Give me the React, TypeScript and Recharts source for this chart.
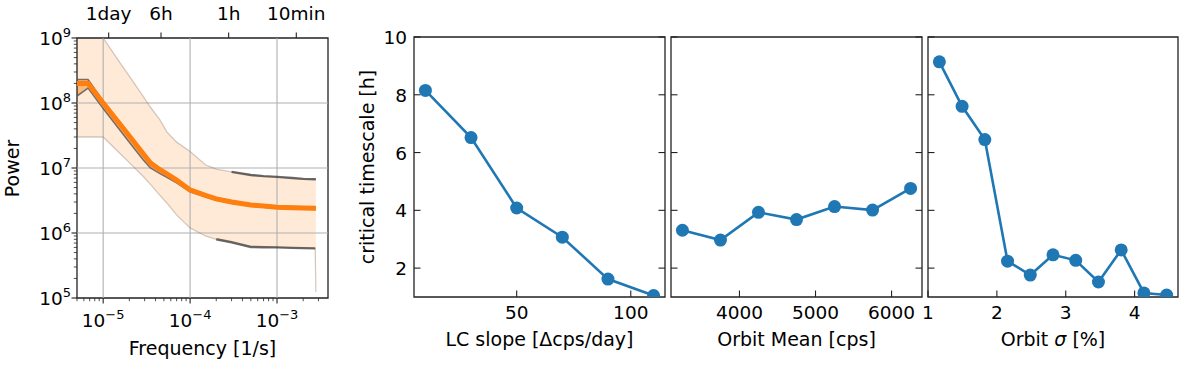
import React from 'react';
import {
  ComposedChart,
  LineChart,
  Line,
  Area,
  XAxis,
  YAxis,
  ReferenceLine,
  ReferenceArea,
} from 'recharts';

const FONT = '"DejaVu Sans", "Liberation Sans", sans-serif';
const BLUE = '#1f77b4';
const ORANGE = '#ff7f0e';
const INK = '#222222';
const GRID = '#b0b0b0';
const TICK_FS = 18.5;
const LABEL_FS = 19;

// ---------- Panel 1: power spectrum ----------
const psdFreq = [5e-6, 6.7e-6, 1e-5, 1.5e-5, 2e-5, 2.9e-5, 3.5e-5, 4.5e-5, 5.4e-5, 7e-5, 1e-4, 1.5e-4, 2e-4, 3e-4, 5e-4, 7e-4, 1e-3, 1.5e-3, 2e-3, 2.75e-3, 2.8e-3];
const psdMean = [2.0e8, 2.0e8, 1.0e8, 5.06e7, 3.1e7, 1.64e7, 1.19e7, 9.4e6, 8.1e6, 6.5e6, 4.6e6, 3.8e6, 3.35e6, 3.0e6, 2.7e6, 2.6e6, 2.5e6, 2.45e6, 2.42e6, 2.4e6, 2.4e6];
const psdInnerLo = [1.28e8, 1.7e8, 8.2e7, 4.1e7, 2.5e7, 1.33e7, 1.0e7, 8.2e6, 7.2e6, 5.9e6, 4.3e6, 3.6e6, 3.2e6, 2.88e6, 2.6e6, 2.5e6, 2.4e6, 2.36e6, 2.33e6, 2.3e6, 2.3e6];
const psdInnerHi = [2.3e8, 2.3e8, 1.07e8, 5.4e7, 3.3e7, 1.75e7, 1.27e7, 9.9e6, 8.5e6, 6.8e6, 4.8e6, 3.95e6, 3.48e6, 3.12e6, 2.8e6, 2.7e6, 2.6e6, 2.55e6, 2.52e6, 2.5e6, 2.5e6];
const psdLo = [3.0e7, 3.0e7, 3.0e7, 1.76e7, 1.21e7, 7.4e6, 5.6e6, 3.8e6, 2.9e6, 1.9e6, 1.2e6, 9.0e5, 8.0e5, 7.2e5, 6.1e5, 6.05e5, 6.0e5, 5.9e5, 5.85e5, 5.8e5, 1.24e5];
const psdHi = [3.0e9, 2.0e9, 1.0e9, 4.5e8, 2.6e8, 1.25e8, 8.6e7, 5.5e7, 3.6e7, 2.5e7, 1.8e7, 1.12e7, 9.6e6, 8.7e6, 7.8e6, 7.5e6, 7.3e6, 7.0e6, 6.8e6, 6.7e6, 6.7e6];
const psdLoDark = [null, null, null, null, null, null, null, null, null, null, null, null, 8.0e5, 7.2e5, 6.1e5, 6.05e5, 6.0e5, 5.9e5, 5.85e5, 5.8e5, null];
const psdHiDark = [null, null, null, null, null, null, null, null, null, null, null, null, null, 8.7e6, 7.8e6, 7.5e6, 7.3e6, 7.0e6, 6.8e6, 6.7e6, 6.7e6];

const psdXDomain: [number, number] = [5e-6, 3.86e-3];
const psdYDomain: [number, number] = [1e5, 1e9];
const psdXMajor = [1e-5, 1e-4, 1e-3];
const psdYMajor = [1e5, 1e6, 1e7, 1e8, 1e9];
const psdTopTicks = [1 / 86400, 1 / 21600, 1 / 3600, 1 / 600];
const psdTopLabels = ['1day', '6h', '1h', '10min'];
const minorMult = [2, 3, 4, 5, 6, 7, 8, 9];

const psdXTicks = [
  ...psdXMajor,
  ...[1e-6, 1e-5, 1e-4, 1e-3].flatMap((d) => minorMult.map((m) => m * d)),
].filter((v) => v >= psdXDomain[0] * 0.999 && v <= psdXDomain[1]);
const psdYTicks = [
  ...psdYMajor,
  ...[1e5, 1e6, 1e7, 1e8].flatMap((d) => minorMult.map((m) => m * d)),
];

const psdData = psdFreq.map((f, i) => ({
  f,
  mean: psdMean[i],
  inner: [psdInnerLo[i], psdInnerHi[i]],
  innerLo: psdInnerLo[i],
  innerHi: psdInnerHi[i],
  band: [psdLo[i], psdHi[i]],
  lo: psdLo[i],
  hi: psdHi[i],
  loDark: psdLoDark[i],
  hiDark: psdHiDark[i],
}));

// ---------- Panels 2-4: critical timescale ----------
const slopeX = [10, 30, 50, 70, 90, 110];
const slopeT = [8.15, 6.52, 4.08, 3.07, 1.62, 1.05];
const orbitMeanX = [3250, 3750, 4250, 4750, 5250, 5750, 6250];
const orbitMeanT = [3.31, 2.97, 3.93, 3.68, 4.13, 4.01, 4.76];
const orbitSigmaX = [1.165, 1.495, 1.825, 2.155, 2.485, 2.815, 3.145, 3.475, 3.805, 4.135, 4.465];
const orbitSigmaT = [9.14, 7.6, 6.45, 2.24, 1.76, 2.46, 2.27, 1.52, 2.63, 1.14, 1.07];

const timeDomain: [number, number] = [1, 10];
const timeTicks = [2, 4, 6, 8, 10];
const slopeTicks = [50, 100];
const orbitMeanTicks = [4000, 5000, 6000];
const orbitSigmaTicks = [1, 2, 3, 4];

const isMajor = (v: number) => {
  const e = Math.log10(v);
  return Math.abs(e - Math.round(e)) < 1e-6;
};

const Pow10 = ({ x, y, exp, anchor }: any) => (
  <text x={x} y={y} textAnchor={anchor} fontSize={TICK_FS} fill="#000" fontFamily={FONT}>
    10
    <tspan dy={-8.5} fontSize={13}>
      {exp < 0 ? `\u2212${-exp}` : `${exp}`}
    </tspan>
  </text>
);

const psdXTick = (t: any) => {
  const v = t.payload.value;
  const major = isMajor(v);
  return (
    <g>
      <line x1={t.x} x2={t.x} y1={t.y} y2={t.y + (major ? 5.5 : 3.2)} stroke={INK} strokeWidth={major ? 1.1 : 0.8} />
      {major && <Pow10 x={t.x} y={t.y + 29} exp={Math.round(Math.log10(v))} anchor="middle" />}
    </g>
  );
};

const psdYTick = (t: any) => {
  const v = t.payload.value;
  const major = isMajor(v);
  return (
    <g>
      <line x1={t.x - (major ? 5.5 : 3.2)} x2={t.x} y1={t.y} y2={t.y} stroke={INK} strokeWidth={major ? 1.1 : 0.8} />
      {major && <Pow10 x={t.x - 6} y={t.y + 7} exp={Math.round(Math.log10(v))} anchor="end" />}
    </g>
  );
};

const psdTopTick = (t: any) => {
  const idx = psdTopTicks.findIndex((v) => Math.abs(v - t.payload.value) / v < 1e-6);
  return (
    <g>
      <line x1={t.x} x2={t.x} y1={t.y} y2={t.y - 5.5} stroke={INK} strokeWidth={1.1} />
      <text x={t.x} y={t.y - 18} textAnchor="middle" fontSize={TICK_FS} fill="#000" fontFamily={FONT}>
        {idx >= 0 ? psdTopLabels[idx] : ''}
      </text>
    </g>
  );
};

function PsdPanel() {
  return (
    <div style={{ position: 'absolute', left: 0, top: 0 }}>
      <ComposedChart width={340} height={372} data={psdData} margin={{ top: 0, right: 12, bottom: 0, left: 0 }}>
        <XAxis
          xAxisId={0}
          dataKey="f"
          type="number"
          scale="log"
          domain={psdXDomain}
          allowDataOverflow
          ticks={psdXTicks}
          interval={0}
          tickSize={0}
          tickMargin={0}
          axisLine={false}
          tickLine={false}
          height={74}
          tick={psdXTick}
          label={(l: any) => {
            const vb = l.viewBox || {};
            return (
              <text x={vb.x + vb.width / 2} y={vb.y + 57} textAnchor="middle" fontSize={LABEL_FS} fill="#000" fontFamily={FONT}>
                Frequency [1/s]
              </text>
            );
          }}
        />
        <XAxis
          xAxisId="top"
          orientation="top"
          dataKey="f"
          type="number"
          scale="log"
          domain={psdXDomain}
          allowDataOverflow
          ticks={psdTopTicks}
          interval={0}
          tickSize={0}
          tickMargin={0}
          axisLine={false}
          tickLine={false}
          height={38}
          tick={psdTopTick}
        />
        <YAxis
          type="number"
          scale="log"
          domain={psdYDomain}
          allowDataOverflow
          ticks={psdYTicks}
          interval={0}
          tickSize={0}
          tickMargin={0}
          axisLine={false}
          tickLine={false}
          width={77}
          tick={psdYTick}
          label={(l: any) => {
            const vb = l.viewBox || {};
            const cx = 18.5;
            const cy = vb.y + vb.height / 2 + 0.5;
            return (
              <text x={cx} y={cy} transform={`rotate(-90, ${cx}, ${cy})`} textAnchor="middle" fontSize={LABEL_FS} fill="#000" fontFamily={FONT}>
                Power
              </text>
            );
          }}
        />
        <Area dataKey="band" stroke="none" fill={ORANGE} fillOpacity={0.16} isAnimationActive={false} />
        {psdXMajor.map((v) => (
          <ReferenceLine key={`gx${v}`} x={v} stroke={GRID} strokeWidth={1.1} />
        ))}
        {psdYMajor.slice(1, -1).map((v) => (
          <ReferenceLine key={`gy${v}`} y={v} stroke={GRID} strokeWidth={1.1} />
        ))}
        <Line dataKey="hi" stroke="#8a6f5e" strokeOpacity={0.35} strokeWidth={1.3} dot={false} isAnimationActive={false} />
        <Line dataKey="lo" stroke="#8a6f5e" strokeOpacity={0.35} strokeWidth={1.3} dot={false} isAnimationActive={false} />
        <Line dataKey="hiDark" stroke="#333333" strokeOpacity={0.7} strokeWidth={2.4} dot={false} isAnimationActive={false} />
        <Line dataKey="loDark" stroke="#333333" strokeOpacity={0.7} strokeWidth={2.4} dot={false} isAnimationActive={false} />
        <Area dataKey="inner" stroke="none" fill={ORANGE} fillOpacity={0.45} isAnimationActive={false} />
        <Line dataKey="innerHi" stroke="#555555" strokeOpacity={0.8} strokeWidth={1.6} dot={false} isAnimationActive={false} />
        <Line dataKey="innerLo" stroke="#555555" strokeOpacity={0.8} strokeWidth={1.6} dot={false} isAnimationActive={false} />
        <Line dataKey="mean" stroke={ORANGE} strokeWidth={5} dot={false} isAnimationActive={false} />
        <Line xAxisId="top" dataKey="mean" stroke="none" dot={false} isAnimationActive={false} />
        <ReferenceArea
          x1={psdXDomain[0]}
          x2={psdXDomain[1]}
          y1={psdYDomain[0]}
          y2={psdYDomain[1]}
          fill="none"
          stroke={INK}
          strokeWidth={1.3}
          ifOverflow="visible"
        />
      </ComposedChart>
    </div>
  );
}

type MetricProps = {
  left: number;
  width: number;
  yAxisWidth: number;
  marginRight: number;
  xs: number[];
  ts: number[];
  xDomain: [number, number];
  xTicks: number[];
  xLabel: React.ReactNode;
  yLabel?: string;
  showYLabels: boolean;
  rightTicks: boolean;
};

function MetricPanel(p: MetricProps) {
  const plotW = p.width - p.yAxisWidth - p.marginRight;
  const data = p.xs.map((x, i) => ({ x, t: p.ts[i] }));
  const yTick = (t: any) => (
    <g>
      <line x1={t.x} x2={t.x + 6.5} y1={t.y} y2={t.y} stroke={INK} strokeWidth={1.1} />
      {p.rightTicks && (
        <line x1={t.x + plotW - 6.5} x2={t.x + plotW} y1={t.y} y2={t.y} stroke={INK} strokeWidth={1.1} />
      )}
      {p.showYLabels && (
        <text x={t.x - 7} y={t.y + 7} textAnchor="end" fontSize={TICK_FS} fill="#000" fontFamily={FONT}>
          {t.payload.value}
        </text>
      )}
    </g>
  );
  const xTick = (t: any) => (
    <g>
      <line x1={t.x} x2={t.x} y1={t.y} y2={t.y - 6.5} stroke={INK} strokeWidth={1.1} />
      <text x={t.x} y={t.y + 22} textAnchor="middle" fontSize={TICK_FS} fill="#000" fontFamily={FONT}>
        {t.payload.value}
      </text>
    </g>
  );
  return (
    <div style={{ position: 'absolute', left: p.left, top: 0 }}>
      <LineChart width={p.width} height={372} data={data} margin={{ top: 37, right: p.marginRight, bottom: 0, left: 0 }}>
        <XAxis
          dataKey="x"
          type="number"
          domain={p.xDomain}
          allowDataOverflow
          ticks={p.xTicks}
          interval={0}
          tickSize={0}
          tickMargin={0}
          axisLine={false}
          tickLine={false}
          height={75}
          tick={xTick}
          label={(l: any) => {
            const vb = l.viewBox || {};
            return (
              <text x={vb.x + vb.width / 2} y={vb.y + 49} textAnchor="middle" fontSize={LABEL_FS} fill="#000" fontFamily={FONT}>
                {p.xLabel}
              </text>
            );
          }}
        />
        <YAxis
          type="number"
          domain={timeDomain}
          allowDataOverflow
          ticks={timeTicks}
          interval={0}
          tickSize={0}
          tickMargin={0}
          axisLine={false}
          tickLine={false}
          width={p.yAxisWidth}
          tick={yTick}
          label={
            p.yLabel
              ? (l: any) => {
                  const vb = l.viewBox || {};
                  const cx = 34;
                  const cy = vb.y + vb.height / 2;
                  return (
                    <text x={cx} y={cy} transform={`rotate(-90, ${cx}, ${cy})`} textAnchor="middle" fontSize={LABEL_FS} fill="#000" fontFamily={FONT}>
                      {p.yLabel}
                    </text>
                  );
                }
              : undefined
          }
        />
        <Line
          dataKey="t"
          stroke={BLUE}
          strokeWidth={2.6}
          dot={{ r: 6.5, fill: BLUE, stroke: BLUE, strokeWidth: 0 }}
          isAnimationActive={false}
        />
        <ReferenceArea
          x1={p.xDomain[0]}
          x2={p.xDomain[1]}
          y1={timeDomain[0]}
          y2={timeDomain[1]}
          fill="none"
          stroke={INK}
          strokeWidth={1.3}
          ifOverflow="visible"
        />
      </LineChart>
    </div>
  );
}

export default function App() {
  return (
    <div
      style={{
        position: 'absolute',
        left: 0,
        top: 0,
        width: 1184,
        height: 372,
        background: '#ffffff',
        fontFamily: FONT,
        overflow: 'hidden',
      }}
    >
      <PsdPanel />
      <MetricPanel
        left={340}
        width={330}
        yAxisWidth={74}
        marginRight={5}
        xs={slopeX}
        ts={slopeT}
        xDomain={[5, 115]}
        xTicks={slopeTicks}
        xLabel="LC slope [Δcps/day]"
        yLabel="critical timescale [h]"
        showYLabels
        rightTicks
      />
      <MetricPanel
        left={661}
        width={266}
        yAxisWidth={10}
        marginRight={5}
        xs={orbitMeanX}
        ts={orbitMeanT}
        xDomain={[3100, 6400]}
        xTicks={orbitMeanTicks}
        xLabel="Orbit Mean [cps]"
        showYLabels={false}
        rightTicks
      />
      <MetricPanel
        left={918}
        width={266}
        yAxisWidth={10}
        marginRight={6}
        xs={orbitSigmaX}
        ts={orbitSigmaT}
        xDomain={[1.0, 4.63]}
        xTicks={orbitSigmaTicks}
        xLabel={
          <>
            Orbit <tspan fontStyle="italic">σ</tspan> [%]
          </>
        }
        showYLabels={false}
        rightTicks={false}
      />
    </div>
  );
}
